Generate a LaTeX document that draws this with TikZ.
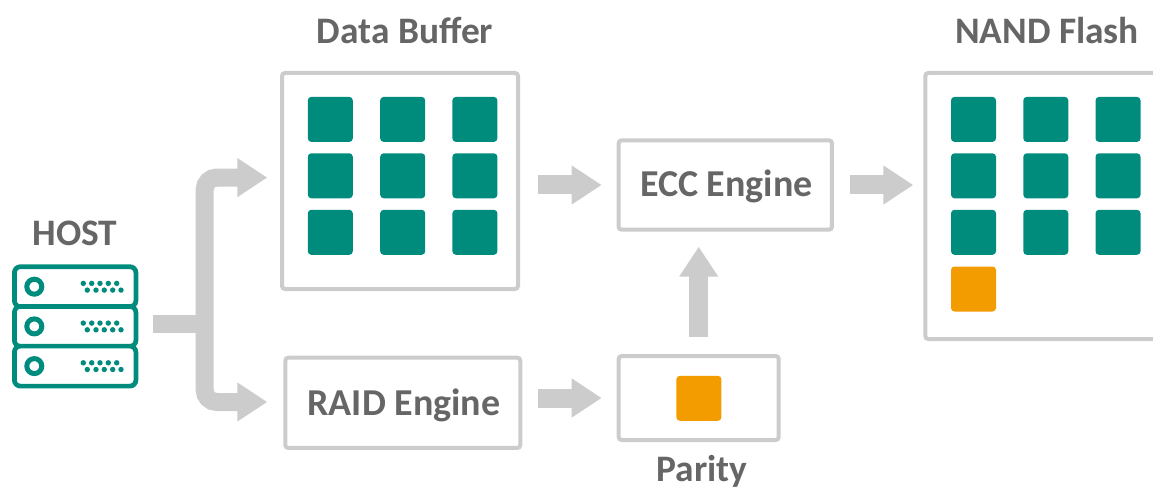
\documentclass[tikz,border=0pt]{standalone}
\usepackage{fontspec}
\setmainfont{Carlito}
\usetikzlibrary{arrows.meta,calc}
\definecolor{tealc}{HTML}{008C7D}
\definecolor{orangec}{HTML}{F39C00}
\definecolor{grayc}{HTML}{CCCCCC}
\definecolor{textc}{HTML}{666666}
\tikzset{
  x=1pt,y=-1pt,
  box/.style={draw=grayc,line width=4pt,rounded corners=3pt,fill=white,inner sep=0pt,text=textc,font=\fontsize{38}{38}\selectfont\bfseries},
  cell/.style={fill=tealc,rounded corners=3.5pt,draw=none,minimum size=45pt,inner sep=0pt},
  parcell/.style={cell,fill=orangec},
  title/.style={text=textc,font=\fontsize{37.4}{37.4}\selectfont\bfseries,inner sep=0pt},
  blockarrow/.style={draw=grayc,line width=19pt,-{Triangle[length=30pt,width=37pt]}},
  blockline/.style={draw=grayc,line width=18pt},
  unit/.style={draw=tealc,line width=4.7pt,rounded corners=6pt,fill=white},
  led/.style={draw=tealc,line width=5pt,fill=white,circle,minimum size=15pt,inner sep=0pt},
  vent/.style={fill=tealc,circle,minimum size=5.4pt,inner sep=0pt}
}
\begin{document}
\begin{tikzpicture}
\useasboundingbox (0,0) rectangle (1153,489);
\clip (0,0) rectangle (1153,489);
\fill[white] (0,0) rectangle (1153,489);
% boxes
\node[box,minimum width=236pt,minimum height=216pt] (data) at (400,181) {};
\node[box,minimum width=277pt,minimum height=266pt,anchor=north west] (nand) at (923.3,71) {};
\node[box,minimum width=213.3pt,minimum height=89.4pt,text height=30pt,text depth=6.6pt] (ecc) at (725.3,185) {\hspace{2.4pt}ECC Engine};
\node[box,minimum width=160pt,minimum height=84pt] (parity) at (698.7,398) {};
\node[box,minimum width=235pt,minimum height=90.3pt,text height=31pt,text depth=6.6pt] (raid) at (402.8,402.8) {\hspace{2.4pt}RAID Engine};
% titles
\node[title] (tdata) at (405,30.5) {Data Buffer};
\node[title] (tnand) at (1047,30.5) {NAND Flash};
\node[title] (thost) at (75,233) {HOST};
\node[title] (tparity) at (702,471) {Parity};
% data cells
\foreach \i/\x in {1/330.3,2/402.7,3/474.9}
  \foreach \j/\y in {1/119.4,2/175.8,3/232.3}
    \node[cell] (d\i\j) at (\x,\y) {};
% nand cells
\foreach \i/\x in {1/973.5,2/1045.8,3/1118}
  \foreach \j/\y in {1/119.4,2/175.8,3/232.3}
    \node[cell] (n\i\j) at (\x,\y) {};
\node[parcell] (nandp) at (973.5,289) {};
\node[parcell] (parp) at (698.9,398.3) {};
% host icon
\node[minimum width=126pt,minimum height=125pt,inner sep=0pt] (host) at (75.2,326.7) {};
\foreach \n/\top in {1/266.7,2/306.4,3/346.1} {
  \draw[unit] (14.4,\top) rectangle (135.9,\top+40);
  \node[led] (led\n) at (34.3,\top+20) {};
  \foreach \k/\x in {1/83.3,2/91.7,3/100,4/108.3,5/116.7}
    \node[vent] (va\n\k) at (\x,\top+16.7) {};
  \foreach \k/\x in {1/87.3,2/96,3/104.3,4/112.7,5/121}
    \node[vent] (vb\n\k) at (\x,\top+23.4) {};
}
% branch
\coordinate (stub) at (153.3,324.2);
\coordinate (trunk) at (204.7,324.2);
\coordinate (upper) at (267.3,177.6);
\coordinate (lower) at (267.3,402);
\draw[blockarrow,rounded corners=12pt,line width=18pt] (trunk) |- (upper);
\draw[blockarrow,rounded corners=12pt,line width=18pt] (trunk) |- (lower);
\draw[blockline] (stub) -- (trunk);
% arrows
\draw[blockarrow,shorten <=18pt,shorten >=15pt] (data.east |- ecc.west) -- (ecc.west);
\draw[blockarrow,shorten <=16pt,shorten >=10pt] (ecc.east) -- (ecc.east -| nand.west);
\draw[blockarrow,shorten <=16.7pt,shorten >=15pt] (parity.north) -- (parity.north |- ecc.south);
\draw[blockarrow,shorten <=16pt,shorten >=15pt] (raid.east |- parity.west) -- (parity.west);
\end{tikzpicture}
\end{document}
